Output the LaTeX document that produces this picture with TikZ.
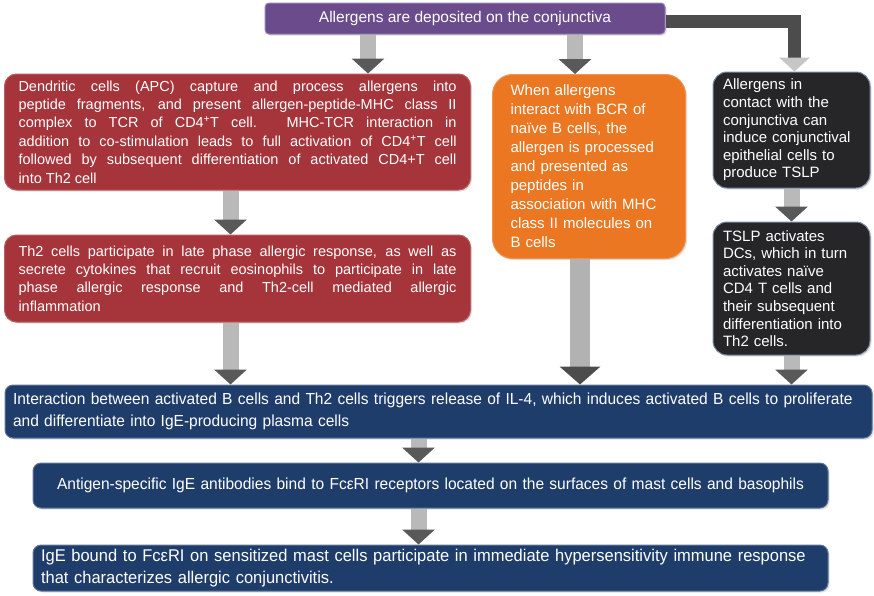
\documentclass[tikz,border=0pt]{standalone}
\usepackage{fontspec}
\setmainfont{Liberation Sans}
\newfontfamily\narrowfont[FakeStretch=0.97]{Liberation Sans}
\usetikzlibrary{arrows.meta,shadows}
\definecolor{purp}{HTML}{6A4C8C}
\definecolor{brick}{HTML}{A5353A}
\definecolor{tang}{HTML}{EC7722}
\definecolor{coal}{HTML}{262628}
\definecolor{navy}{HTML}{1F3D6B}
\begin{document}
\begin{tikzpicture}[x=1pt,y=1pt]
\tikzstyle{every node}+=[text=white, inner ysep=2pt]
\tikzstyle{boxbase}=[line width=1pt, drop shadow={opacity=0.25,shadow xshift=1.5pt,shadow yshift=-1.5pt}]
\tikzstyle{purplebox}=[boxbase, fill=purp, draw=purp!70!white, rounded corners=4pt, minimum width=400, minimum height=31, font=\fontsize{15.5}{17}\selectfont]
\tikzstyle{redbox}=[boxbase, fill=brick, draw=brick!80!white, rounded corners=12pt, inner xsep=14pt, text width=438pt, align=justify, font=\fontsize{14.5}{18.4}\selectfont]
\tikzstyle{orangebox}=[boxbase, fill=tang, draw=tang!80!white, rounded corners=20pt, inner xsep=18pt, text width=157pt, align=left, minimum height=184, font=\fontsize{15}{19}\selectfont]
\tikzstyle{darkbox}=[boxbase, fill=coal, draw=navy!60!white, rounded corners=14pt, inner xsep=10pt, text width=137pt, align=left, font=\fontsize{15}{17.6}\selectfont]
\tikzstyle{bluebox}=[boxbase, fill=navy, draw=navy!70!white, rounded corners=8pt, inner xsep=8pt, align=left, font=\narrowfont\fontsize{16}{22}\selectfont]
\tikzstyle{flow}=[line width=16pt, draw=gray!55, -{Triangle[width=32pt,length=15pt,color=black!65]}]
\tikzstyle{bigflow}=[line width=20pt, draw=gray!60, -{Triangle[width=40pt,length=18pt,color=black!70]}]
\useasboundingbox (0,0) rectangle (874,-595);
% boxes
\node[purplebox] (dep) at (465,-18.5) {Allergens are deposited on the conjunctiva};
\node[redbox, minimum height=116] (dc) at (237.5,-132) {Dendritic cells (APC) capture and process allergens into\linebreak peptide fragments, and present allergen-peptide-MHC class II\linebreak complex to TCR of CD4\textsuperscript{+}T cell. MHC-TCR interaction in\linebreak addition to co-stimulation leads to full activation of CD4\textsuperscript{+}T cell\linebreak followed by subsequent differentiation of activated CD4+T cell\linebreak into Th2 cell};
\node[redbox, minimum height=87] (th) at (237.5,-278.5) {Th2 cells participate in late phase allergic response, as well as\linebreak secrete cytokines that recruit eosinophils to participate in late\linebreak phase allergic response and Th2-cell mediated allergic\linebreak inflammation};
\node[orangebox] (bcr) at (589,-166.5) {When allergens\\interact with BCR of\\naïve B cells, the\\allergen is processed\\and presented as\\peptides in\\association with MHC\\class II molecules on\\B cells};
\node[darkbox, minimum height=116] (epi) at (791.5,-130) {Allergens in\\contact with the\\conjunctiva can\\induce conjunctival\\epithelial cells to\\produce TSLP};
\node[darkbox, minimum height=133] (tslp) at (791.5,-288.5) {TSLP activates\\DCs, which in turn\\activates naïve\\CD4 T cells and\\their subsequent\\differentiation into\\Th2 cells.};
\node[bluebox, text width=851pt, minimum height=53] (il) at (438.5,-411.5) {Interaction between activated B cells and Th2 cells triggers release of IL-4, which induces activated B cells to proliferate\\and differentiate into IgE-producing plasma cells};
\node[bluebox, text width=779pt, minimum height=45, align=center] (fce) at (430.5,-485.5) {Antigen-specific IgE antibodies bind to FcεRI receptors located on the surfaces of mast cells and basophils};
\node[bluebox, text width=779pt, minimum height=46, font=\narrowfont\fontsize{17}{22}\selectfont] (mast) at (430.5,-568) {IgE bound to FcεRI on sensitized mast cells participate in immediate hypersensitivity immune response\\that characterizes allergic conjunctivitis.};
% arrows
\draw[flow] ([xshift=-97pt]dep.south) -- ([xshift=-97pt]dep.south |- dc.north);
\draw[flow] ([xshift=110pt]dep.south) -- ([xshift=110pt]dep.south |- bcr.north);
\draw[line width=13pt, draw=black!70, line join=miter, -{Triangle[width=30pt,length=14pt,color=gray!45]}] ([yshift=-3pt]dep.east) -| ([xshift=3pt]epi.north);
\draw[flow] ([xshift=-7pt]dc.south) -- ([xshift=-7pt]th.north);
\draw[flow] ([xshift=-7pt]th.south) -- ([xshift=-7pt]th.south |- il.north);
\draw[bigflow] ([xshift=-9pt]bcr.south) -- ([xshift=-9pt]bcr.south |- il.north);
\draw[flow] (epi.south) -- (tslp.north);
\draw[flow] (tslp.south) -- (tslp.south |- il.north);
\draw[flow] ([xshift=-20pt]il.south) -- ([xshift=-20pt]il.south |- fce.north);
\draw[flow] ([xshift=-12pt]fce.south) -- ([xshift=-12pt]mast.north);
\end{tikzpicture}
\end{document}
